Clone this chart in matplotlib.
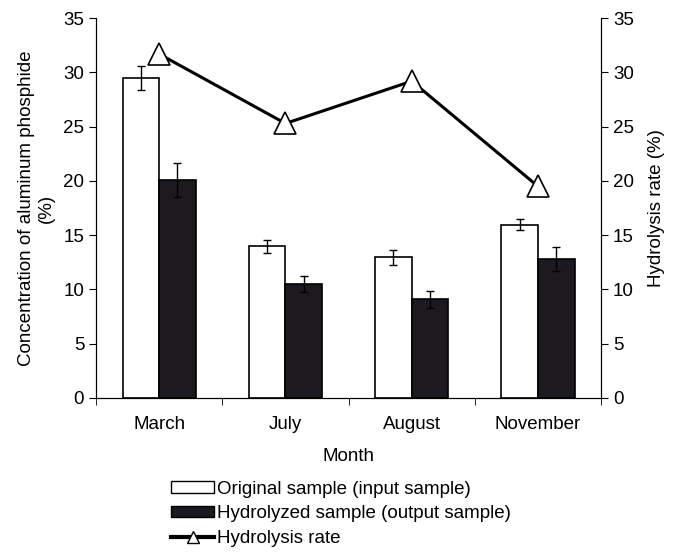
import numpy as np
import matplotlib.pyplot as plt
from matplotlib.patches import Patch
from matplotlib.lines import Line2D

plt.rcParams['font.family'] = ['Liberation Sans', 'DejaVu Sans']
plt.rcParams['font.size'] = 13.5

months = ['March', 'July', 'August', 'November']
original = [29.5, 14.0, 12.95, 15.95]
original_err = [1.1, 0.6, 0.7, 0.5]
hydrolyzed = [20.1, 10.5, 9.1, 12.8]
hydrolyzed_err = [1.6, 0.7, 0.8, 1.1]
hydrolysis_rate = [31.7, 25.3, 29.2, 19.5]

x = np.arange(len(months))
w = 0.29

fig = plt.figure(figsize=(6.91, 5.52), dpi=100)
ax = fig.add_axes([0.139, 0.279, 0.731, 0.688])

ax.bar(x - w / 2, original, w, color='white', edgecolor='black', linewidth=1.2,
       yerr=original_err, capsize=3, error_kw=dict(elinewidth=1, ecolor='black'))
ax.bar(x + w / 2, hydrolyzed, w, color='#1c1a1e', edgecolor='black', linewidth=1.2,
       yerr=hydrolyzed_err, capsize=3, error_kw=dict(elinewidth=1, ecolor='black'))

ax.set_xlim(-0.5, len(months) - 0.5)
ax.set_ylim(0, 35)
ax.set_yticks(range(0, 36, 5))
ax.set_xticks(x)
ax.set_xticklabels(months)
ax.set_xticks(np.arange(-0.5, len(months), 1), minor=True)
ax.tick_params(axis='x', which='major', length=0, pad=13)
ax.tick_params(axis='x', which='minor', length=5, direction='out')
ax.tick_params(axis='y', length=5, direction='out')
ax.spines['top'].set_visible(False)
ax.set_xlabel('Month', labelpad=11)
ax.set_ylabel('Concentration of aluminum phosphide\n(%)', labelpad=6)

ax2 = ax.twinx()
ax2.plot(x, hydrolysis_rate, color='black', linewidth=2.2, marker='^', markersize=16,
         markerfacecolor='white', markeredgecolor='black', markeredgewidth=1.2)
ax2.set_ylim(0, 35)
ax2.set_yticks(range(0, 36, 5))
ax2.tick_params(axis='y', length=5, direction='out')
ax2.spines['top'].set_visible(False)
ax2.set_ylabel('Hydrolysis rate (%)', labelpad=10)

handles = [
    Patch(facecolor='white', edgecolor='black', label='Original sample (input sample)'),
    Patch(facecolor='#1c1a1e', edgecolor='black', label='Hydrolyzed sample (output sample)'),
    Line2D([0], [0], color='black', linewidth=3, marker='^', markersize=8,
           markerfacecolor='white', markeredgecolor='black', label='Hydrolysis rate'),
]
fig.legend(handles=handles, loc='upper left', bbox_to_anchor=(0.237, 0.143),
           bbox_transform=fig.transFigure, frameon=False, handlelength=2.3,
           handleheight=0.55, handletextpad=0.15, labelspacing=0.42, borderaxespad=0)

fig.savefig('out.png', dpi=100)
